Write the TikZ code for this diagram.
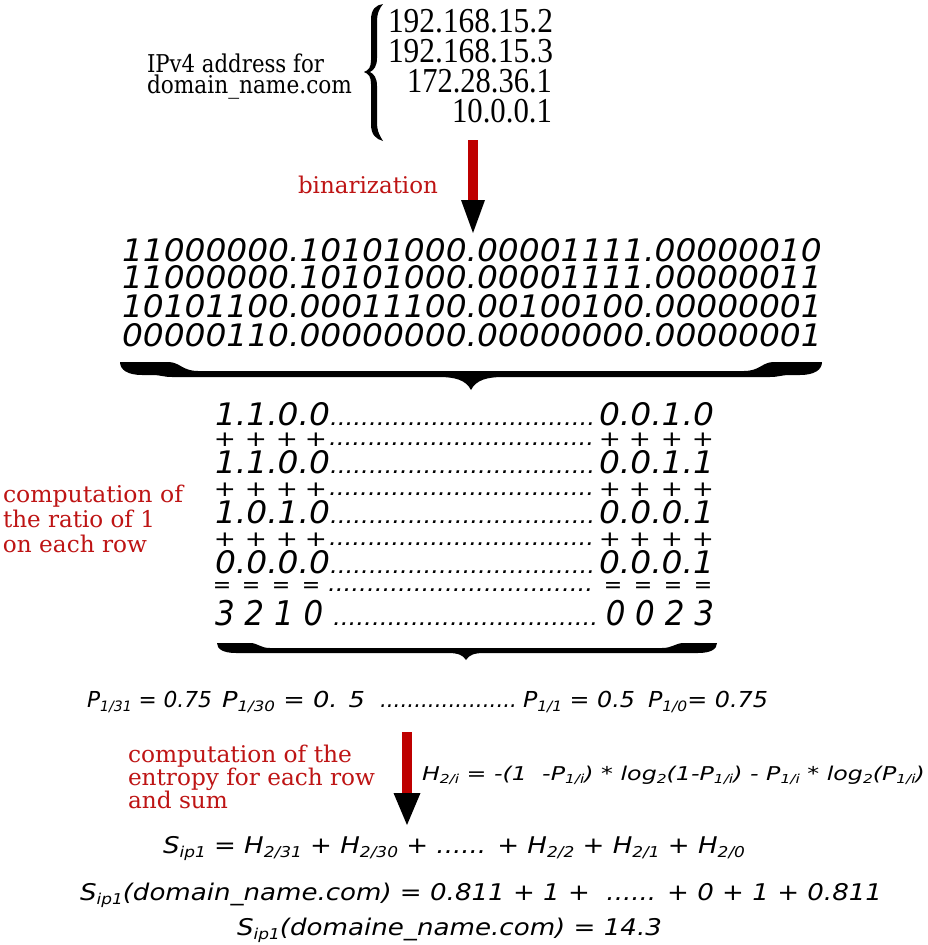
\documentclass[tikz,border=0pt]{standalone}
\usepackage{fontspec}
\usepackage{graphicx}
\usetikzlibrary{calc}
\newfontfamily\dvs{DejaVu Sans}[ItalicFont={DejaVu Sans Oblique}]
\newfontfamily\dvserif{DejaVu Serif}
\newfontfamily\libserif{Liberation Serif}
\definecolor{arrred}{RGB}{190,0,0}
\definecolor{txtred}{RGB}{190,20,20}
\newcommand\fs[1]{\fontsize{#1}{#1}\selectfont}
\newcommand\ob{\dvs\itshape}
\newsavebox\fitbox
\newcommand\fitx[2]{\sbox\fitbox{#2}\pgfmathsetmacro\fitf{#1/\the\wd\fitbox}\scalebox{\fitf}[1]{\usebox\fitbox}}
\newcommand\sbs[1]{\raisebox{-0.2em}{\scalebox{0.65}{#1}}}
\ExplSyntaxOn
\cs_new:Npn \mydots #1 { \prg_replicate:nn {#1} {.} }
\ExplSyntaxOff
\begin{document}
\begin{tikzpicture}[x=1pt,y=-1pt,
  txt/.style={inner sep=0pt,outer sep=0pt},
  bw/.style={txt,anchor=base west},
  be/.style={txt,anchor=base east},
  ctr/.style={txt,anchor=center},
  redlabel/.style={bw,text=txtred},
  dotsty/.style={bw},
  plusy/.style={ctr},
  bracefill/.style={fill=black}]
\fill[white] (0,0) rectangle (928,945);
\useasboundingbox (0,0) rectangle (928,945);

% ---- top label and addresses
\node[bw] (lab1) at (147,72) {\fitx{177}{\dvserif\fs{24.5}IPv4 address for}};
\node[bw] (lab2) at (147,93) {\fitx{205}{\dvserif\fs{24.5}domain\_name.com}};

\fill[bracefill] (383,4) .. controls (376,5) and (371,9) .. (371,20) -- (371,60)
  .. controls (371,67) and (369,70) .. (364,72) .. controls (369,74) and (371,77) .. (371,84)
  -- (371,124) .. controls (371,135) and (376,139) .. (383,141)
  .. controls (380,136) and (377,132) .. (377,122) -- (377,86)
  .. controls (377,78) and (374,74) .. (370,72) .. controls (374,70) and (377,66) .. (377,58)
  -- (377,22) .. controls (377,12) and (380,8) .. (383,4) -- cycle;

\node[be] (ip1) at (553,32) {\fitx{165}{\libserif\fs{35}192.168.15.2}};
\node[be] (ip2) at (553,62) {\fitx{165}{\libserif\fs{35}192.168.15.3}};
\node[be] (ip3) at (552,92) {\fitx{145}{\libserif\fs{35}172.28.36.1}};
\node[be] (ip4) at (552,122) {\fitx{100}{\libserif\fs{35}10.0.0.1}};

% ---- binarization arrow
\node[redlabel] (binz) at (298,193) {\fitx{140}{\dvserif\fs{23}binarization}};
\coordinate (a1s) at (473,140);
\coordinate (a1b) at (473,200);
\coordinate (a1t) at (473,233);
\fill[arrred] ($(a1s)+(-5,0)$) rectangle ($(a1b)+(5,0)$);
\fill ($(a1b)+(-12,0)$) -- ($(a1b)+(12,0)$) -- (a1t) -- cycle;

% ---- binary lines
\node[bw] (b1) at (122,261) {\fitx{700}{\ob\fs{31}11000000.10101000.00001111.00000010}};
\node[bw] (b2) at (122,288.5) {\fitx{700}{\ob\fs{31}11000000.10101000.00001111.00000011}};
\node[bw] (b3) at (122,317) {\fitx{700}{\ob\fs{31}10101100.00011100.00100100.00000001}};
\node[bw] (b4) at (122,346) {\fitx{700}{\ob\fs{31}00000110.00000000.00000000.00000001}};

\fill[bracefill] (120,362) -- (168,362) .. controls (180,362) and (182,371) .. (198,371)
  -- (744,371) .. controls (760,371) and (762,362) .. (774,362) -- (822,362)
  .. controls (822,370) and (814,375) .. (800,375) -- (790,375)
  .. controls (781,375) and (779,377) .. (770,377) -- (503,377)
  .. controls (487,377) and (476,380) .. (471,390) .. controls (466,380) and (455,377) .. (439,377)
  -- (172,377) .. controls (163,377) and (161,375) .. (152,375) -- (142,375)
  .. controls (128,375) and (120,370) .. (120,362) -- cycle;

% ---- column sums block
\node[bw] (l1) at (215,425) {\scalebox{1.06}[1]{\ob\fs{31}1.1.0.0}};
\node[dotsty] (d1) at (330,425) {\scalebox{1.115}[1]{\ob\fs{22}\mydots{34}}};
\node[be] (r1) at (714,425) {\scalebox{1.06}[1]{\ob\fs{31}0.0.1.0}};

\node[bw] (l3) at (215,473) {\scalebox{1.06}[1]{\ob\fs{31}1.1.0.0}};
\node[dotsty] (d3) at (330,473) {\scalebox{1.115}[1]{\ob\fs{22}\mydots{34}}};
\node[be] (r3) at (714,473) {\scalebox{1.06}[1]{\ob\fs{31}0.0.1.1}};

\node[bw] (l5) at (215,523) {\scalebox{1.06}[1]{\ob\fs{31}1.0.1.0}};
\node[dotsty] (d5) at (330,523) {\scalebox{1.115}[1]{\ob\fs{22}\mydots{34}}};
\node[be] (r5) at (714,523) {\scalebox{1.06}[1]{\ob\fs{31}0.0.0.1}};

\node[bw] (l7) at (215,573) {\scalebox{1.06}[1]{\ob\fs{31}0.0.0.0}};
\node[dotsty] (d7) at (330,573) {\scalebox{1.115}[1]{\ob\fs{22}\mydots{34}}};
\node[be] (r7) at (714,573) {\scalebox{1.06}[1]{\ob\fs{31}0.0.0.1}};

\foreach \yy/\rr in {440/2,490/4,540/6} {
  \foreach \xx [count=\i] in {225,256,287,316,610,640,672,703}
    \node[plusy] (p\rr-\i) at (\xx,\yy) {\scalebox{1.1}[0.9]{\dvs\fs{24}+}};
  \node[dotsty] (d\rr) at (329,\yy+5) {\scalebox{1.115}[1]{\ob\fs{22}\mydots{34}}};
}
\foreach \xx [count=\i] in {222,251,281,311,613,643,673,703}
  \node[plusy] (e8-\i) at (\xx,587) {\dvs\fs{22}=};
\node[dotsty] (d8) at (328,591) {\scalebox{1.115}[1]{\ob\fs{22}\mydots{34}}};

\node[bw] (l9) at (215,625) {\scalebox{0.91}[1]{\ob\fs{34}3 2 1 0}};
\node[dotsty] (d9) at (333,625) {\scalebox{1.115}[1]{\ob\fs{22}\mydots{34}}};
\node[be] (r9) at (714,625) {\scalebox{0.91}[1]{\ob\fs{34}0 0 2 3}};

\node[redlabel] (c1) at (3,502) {\fitx{180}{\dvserif\fs{23}computation of}};
\node[redlabel] (c2) at (3,527) {\fitx{152}{\dvserif\fs{23}the ratio of 1}};
\node[redlabel] (c3) at (3,552) {\fitx{144}{\dvserif\fs{23}on each row}};

\fill[bracefill] (217,643) -- (250,643) .. controls (258,643) and (260,648) .. (270,648)
  -- (662,648) .. controls (673,648) and (675,643) .. (684,643) -- (717,643)
  .. controls (717,649) and (711,653) .. (698,653) -- (484,653)
  .. controls (474,653) and (469,655) .. (466,660) .. controls (463,655) and (458,653) .. (448,653)
  -- (236,653) .. controls (223,653) and (217,649) .. (217,643) -- cycle;

% ---- probabilities
\node[bw] (pp1) at (87,707) {\fitx{125}{\ob\fs{22}P\sbs{1/31} = 0.75}};
\node[bw] (pp2) at (222,707) {\fitx{143}{\ob\fs{22}P\sbs{1/30} = 0. 5}};
\node[bw] (pp3) at (380,707) {\fitx{137}{\ob\fs{22}\mydots{20}}};
\node[bw] (pp4) at (523,707) {\fitx{112}{\ob\fs{22}P\sbs{1/1} = 0.5}};
\node[bw] (pp5) at (648,707) {\fitx{120}{\ob\fs{22}P\sbs{1/0}= 0.75}};

% ---- entropy arrow
\coordinate (a2s) at (407,732);
\coordinate (a2b) at (407,793);
\coordinate (a2t) at (407,825);
\fill[arrred] ($(a2s)+(-5,0)$) rectangle ($(a2b)+(5,0)$);
\fill ($(a2b)+(-13.5,0)$) -- ($(a2b)+(13.5,0)$) -- (a2t) -- cycle;

\node[redlabel] (e1) at (128,762) {\fitx{224}{\dvserif\fs{23}computation of the}};
\node[redlabel] (e2) at (128,785) {\fitx{247}{\dvserif\fs{23}entropy for each row}};
\node[redlabel] (e3) at (128,808) {\fitx{100}{\dvserif\fs{23}and sum}};

\node[bw] (hf) at (422,780) {\fitx{503}{\ob\fs{19}H\sbs{2/i} = -(1\ \ -P\sbs{1/i}) * log\sbs{2}(1-P\sbs{1/i}) - P\sbs{1/i} * log\sbs{2}(P\sbs{1/i})}};

% ---- sums
\node[bw] (s1) at (163,853) {\fitx{582}{\ob\fs{23}S\sbs{ip1} = H\sbs{2/31} + H\sbs{2/30} + ...... + H\sbs{2/2} + H\sbs{2/1} + H\sbs{2/0}}};
\node[bw] (s2) at (80,900) {\fitx{802}{\ob\fs{23}S\sbs{ip1}(domain\_name.com) = 0.811 + 1 +\ \ ...... + 0 + 1 + 0.811}};
\node[bw] (s3) at (237,935) {\fitx{425}{\ob\fs{23}S\sbs{ip1}(domaine\_name.com) = 14.3}};
\end{tikzpicture}
\end{document}
